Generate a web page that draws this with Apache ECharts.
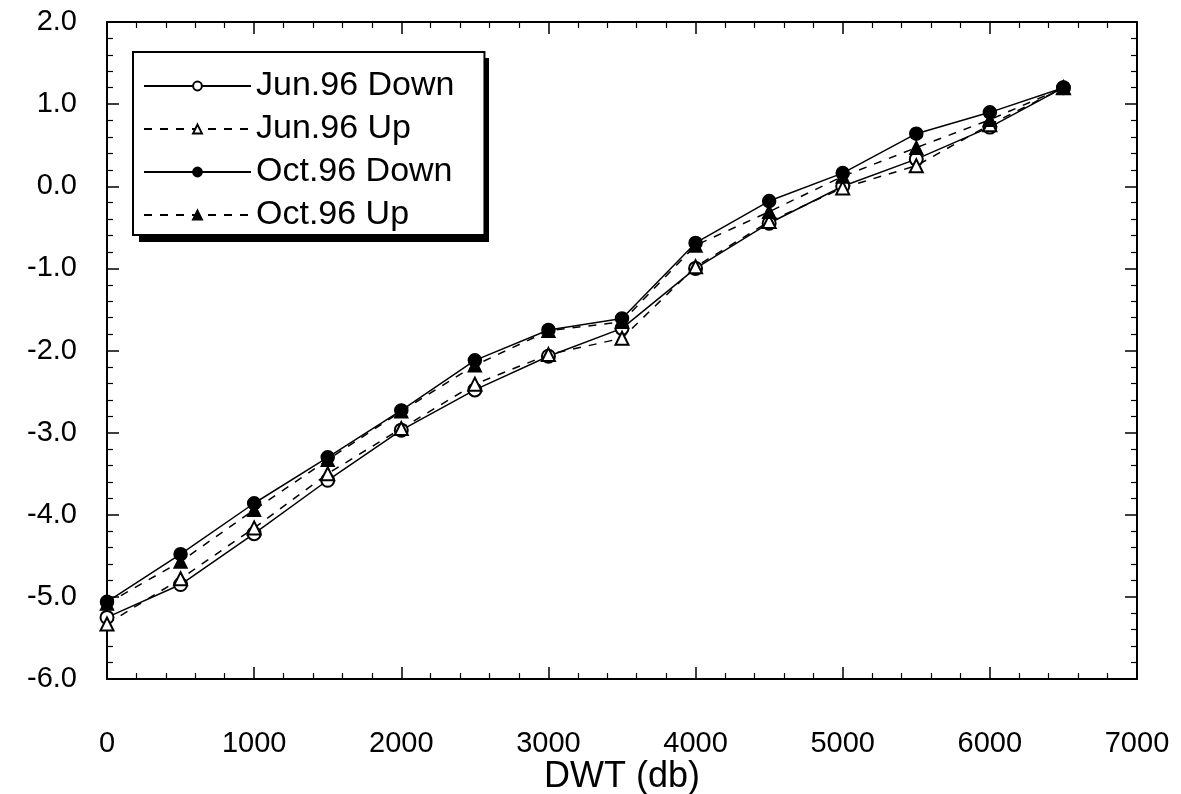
<!DOCTYPE html>
<html>
<head>
<meta charset="utf-8">
<script src="https://cdn.jsdelivr.net/npm/echarts@6/dist/echarts.min.js"></script>
<style>html,body{margin:0;padding:0;background:#fff}#c{width:1181px;height:794px}</style>
</head>
<body>
<div id="c"></div>
<script>
const dwt = [0, 500, 1000, 1500, 2000, 2500, 3000, 3500, 4000, 4500, 5000, 5500, 6000, 6500];
const jun96Down = [-5.25, -4.85, -4.23, -3.58, -2.97, -2.48, -2.07, -1.73, -1.00, -0.45, 0.00, 0.33, 0.72, 1.20];
const jun96Up   = [-5.33, -4.78, -4.16, -3.50, -2.95, -2.41, -2.05, -1.85, -0.98, -0.43, -0.02, 0.25, 0.75, 1.20];
const oct96Down = [-5.06, -4.48, -3.86, -3.30, -2.73, -2.12, -1.75, -1.61, -0.69, -0.18, 0.16, 0.64, 0.90, 1.20];
const oct96Up   = [-5.08, -4.57, -3.94, -3.33, -2.74, -2.18, -1.76, -1.65, -0.72, -0.31, 0.12, 0.47, 0.81, 1.20];
const seriesNames = ['Jun.96 Down', 'Jun.96 Up', 'Oct.96 Down', 'Oct.96 Up'];
const xLabel = 'DWT (db)';

const FONT = 'Liberation Sans';
function pairs(ys){ return dwt.map((x,i)=>[x, ys[i]]); }

function axisStyle(){
  return {
    axisLine: {show: true, onZero: false, lineStyle: {color: '#000', width: 2}},
    axisTick: {show: true, inside: true, length: 12, lineStyle: {color: '#000', width: 1.5}},
    minorTick: {show: true, splitNumber: 5, length: 6, lineStyle: {color: '#000', width: 1.2}},
    splitLine: {show: false}
  };
}

function mk(name, data, symbol, dashed){
  return {
    name: name, type: 'line', data: pairs(data),
    xAxisIndex: 0, yAxisIndex: 0,
    symbol: symbol, symbolSize: 13,
    showAllSymbol: true,
    z: 3,
    lineStyle: {color: '#000', width: 1.5, type: dashed ? [8, 8] : 'solid'},
    itemStyle: {color: '#000', borderColor: '#000', borderWidth: 1.5},
    emphasis: {disabled: true},
    animation: false
  };
}

const chart = echarts.init(document.getElementById('c'), null, {renderer: 'canvas'});
chart.setOption({
  backgroundColor: '#fff',
  animation: false,
  grid: {left: 107, right: 44, top: 22, bottom: 115, containLabel: false, outerBoundsMode: 'none'},
  graphic: [{
    type: 'rect', z: 20, zlevel: 0,
    shape: {x: 139, y: 58, width: 350, height: 184},
    style: {fill: '#000'}
  }],
  legend: {
    orient: 'vertical', left: 133, top: 52, z: 30,
    data: seriesNames,
    itemWidth: 107, itemHeight: 11, itemGap: 3,
    padding: [14, 30, 0, 10],
    backgroundColor: '#fff', borderColor: '#000', borderWidth: 2,
    textStyle: {fontFamily: FONT, fontSize: 34, color: '#000', lineHeight: 40},
    selectedMode: false
  },
  xAxis: [
    Object.assign({type: 'value', min: 0, max: 7000, interval: 1000, position: 'bottom',
      name: xLabel, nameLocation: 'middle', nameGap: 80, nameMoveOverlap: false,
      nameTextStyle: {fontFamily: FONT, fontSize: 36, color: '#000'},
      axisLabel: {fontFamily: FONT, fontSize: 29, color: '#000', margin: 50,
        formatter: v => String(v)}}, axisStyle()),
    Object.assign({type: 'value', min: 0, max: 7000, interval: 1000, position: 'top',
      axisLabel: {show: false}}, axisStyle())
  ],
  yAxis: [
    Object.assign({type: 'value', min: -6, max: 2, interval: 1, position: 'left',
      axisLabel: {fontFamily: FONT, fontSize: 29, color: '#000', margin: 30,
        formatter: v => v.toFixed(1)}}, axisStyle()),
    Object.assign({type: 'value', min: -6, max: 2, interval: 1, position: 'right',
      axisLabel: {show: false}}, axisStyle())
  ],
  series: [
    mk(seriesNames[0], jun96Down, 'emptyCircle', false),
    mk(seriesNames[1], jun96Up, 'emptyTriangle', true),
    mk(seriesNames[2], oct96Down, 'circle', false),
    mk(seriesNames[3], oct96Up, 'triangle', true)
  ]
});
</script>
</body>
</html>
